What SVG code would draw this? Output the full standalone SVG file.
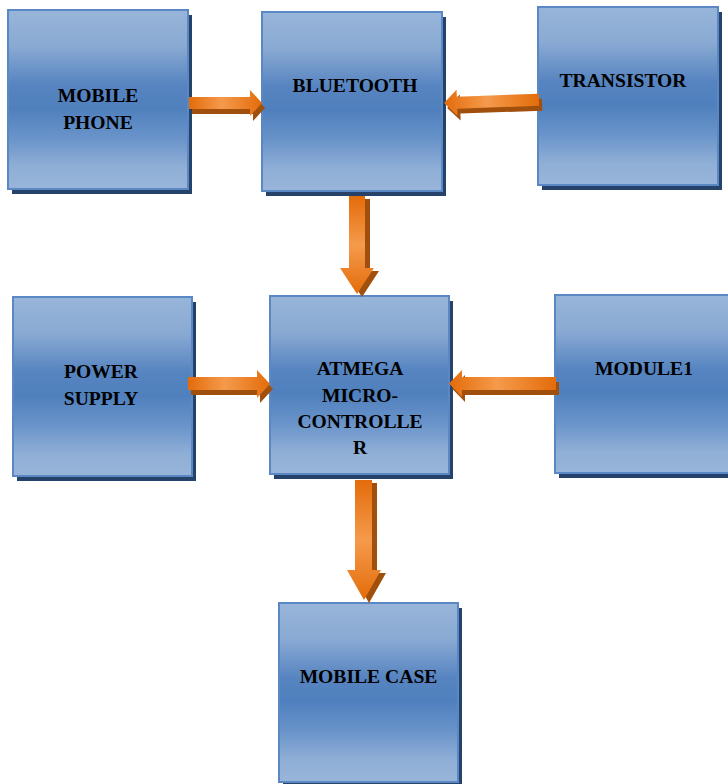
<svg xmlns="http://www.w3.org/2000/svg" width="728" height="784" viewBox="0 0 728 784">
<defs>
<linearGradient id="boxg" x1="0" y1="0" x2="0" y2="1">
<stop offset="0" stop-color="#98b5d9"/>
<stop offset="0.2" stop-color="#8aaad3"/>
<stop offset="0.42" stop-color="#5684c0"/>
<stop offset="0.55" stop-color="#4f80bd"/>
<stop offset="0.72" stop-color="#6a94ca"/>
<stop offset="0.88" stop-color="#90afd6"/>
<stop offset="1" stop-color="#98b5d9"/>
</linearGradient>
<linearGradient id="arrh" x1="0" y1="0" x2="1" y2="0">
<stop offset="0" stop-color="#e36c0a"/>
<stop offset="0.45" stop-color="#f59a4c"/>
<stop offset="1" stop-color="#e36c0a"/>
</linearGradient>
<linearGradient id="arrv" x1="0" y1="0" x2="0" y2="1">
<stop offset="0" stop-color="#e36c0a"/>
<stop offset="0.5" stop-color="#f59a4c"/>
<stop offset="1" stop-color="#e36c0a"/>
</linearGradient>
<style>
.shadow{fill:#25426a}
.box{fill:url(#boxg);stroke:#5a88c4;stroke-width:2}
.lbl{font-family:"Liberation Serif","Times New Roman",serif;font-weight:bold;font-size:19.6px;fill:#000;text-anchor:middle}
.ash{fill:#a04f0c}
.ah{fill:url(#arrh)}
.av{fill:url(#arrv)}
</style>
</defs>
<rect width="728" height="784" fill="#ffffff"/>

<g id="mobile-phone">
<rect class="shadow" x="12" y="15" width="180" height="179"/>
<rect class="box" x="8" y="10" width="180" height="179"/>
<text class="lbl" x="98" y="102">MOBILE</text>
<text class="lbl" x="98" y="129">PHONE</text>
</g>
<g id="bluetooth">
<rect class="shadow" x="266" y="17" width="180" height="179"/>
<rect class="box" x="262" y="12" width="180" height="179"/>
<text class="lbl" x="355" y="92">BLUETOOTH</text>
</g>
<g id="transistor">
<rect class="shadow" x="542" y="12" width="180" height="178"/>
<rect class="box" x="538" y="7" width="180" height="178"/>
<text class="lbl" x="623" y="87">TRANSISTOR</text>
</g>
<g id="power-supply">
<rect class="shadow" x="17" y="302" width="179" height="179"/>
<rect class="box" x="13" y="297" width="179" height="179"/>
<text class="lbl" x="101" y="378">POWER</text>
<text class="lbl" x="101" y="405">SUPPLY</text>
</g>
<g id="atmega">
<rect class="shadow" x="274" y="301" width="179" height="178"/>
<rect class="box" x="270" y="296" width="179" height="178"/>
<text class="lbl" x="360" y="375">ATMEGA</text>
<text class="lbl" x="360" y="402">MICRO-</text>
<text class="lbl" x="360" y="428">CONTROLLE</text>
<text class="lbl" x="360" y="454">R</text>
</g>
<g id="module1">
<rect class="shadow" x="559" y="300" width="180" height="178"/>
<rect class="box" x="555" y="295" width="180" height="178"/>
<text class="lbl" x="644" y="375">MODULE1</text>
</g>
<g id="mobile-case">
<rect class="shadow" x="283" y="608" width="179" height="179"/>
<rect class="box" x="279" y="603" width="179" height="179"/>
<text class="lbl" x="368.5" y="683">MOBILE CASE</text>
</g>

<g id="connectors">
<g id="a-phone-bt">
<polygon class="ash" transform="translate(3,5)" points="189,97 250,97 250,90 262,103 250,116 250,109 189,109"/>
<polygon class="ah" points="189,97 250,97 250,90 262,103 250,116 250,109 189,109"/>
</g>
<g id="a-tr-bt" transform="rotate(-2 490 101.5)">
<polygon class="ash" transform="translate(3,5)" points="539,95.5 457,95.5 457,88.5 444,101.5 457,114.5 457,107.5 539,107.5"/>
<polygon class="ah" points="539,95.5 457,95.5 457,88.5 444,101.5 457,114.5 457,107.5 539,107.5"/>
</g>
<g id="a-bt-at">
<polygon class="ash" transform="translate(5,3)" points="349,196 365,196 365,268 374,268 357,294 340,268 349,268"/>
<polygon class="av" points="349,196 365,196 365,268 374,268 357,294 340,268 349,268"/>
</g>
<g id="a-ps-at">
<polygon class="ash" transform="translate(3,5)" points="188,377 257,377 257,370 270,384 257,398 257,390 188,390"/>
<polygon class="ah" points="188,377 257,377 257,370 270,384 257,398 257,390 188,390"/>
</g>
<g id="a-mod-at">
<polygon class="ash" transform="translate(3,5)" points="556,377 462,377 462,370 449,383.5 462,397 462,390 556,390"/>
<polygon class="ah" points="556,377 462,377 462,370 449,383.5 462,397 462,390 556,390"/>
</g>
<g id="a-at-case">
<polygon class="ash" transform="translate(5,3)" points="355,480 372,480 372,570 381,570 364,600 347,570 355,570"/>
<polygon class="av" points="355,480 372,480 372,570 381,570 364,600 347,570 355,570"/>
</g>
</g>
</svg>
